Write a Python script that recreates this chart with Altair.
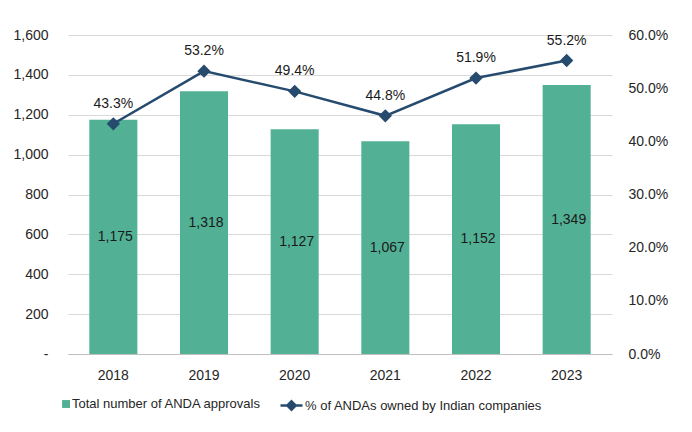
import altair as alt
import pandas as pd

years = ["2018", "2019", "2020", "2021", "2022", "2023"]
approvals = [1175, 1318, 1127, 1067, 1152, 1349]
indian_share = [0.433, 0.532, 0.494, 0.448, 0.519, 0.552]

bar_name = "Total number of ANDA approvals"
line_name = "% of ANDAs owned by Indian companies"

df = pd.DataFrame({
    "year": years,
    "approvals": approvals,
    "share": indian_share,
    "mid": [v / 2 for v in approvals],
    "bar_series": [bar_name] * len(years),
    "line_series": [line_name] * len(years),
})

FONT = "Liberation Sans"
BAR_COLOR = "#52B195"
LINE_COLOR = "#264B6E"

x_enc = alt.X("year:N", title=None,
              scale=alt.Scale(paddingInner=0.47, paddingOuter=0.235),
              axis=alt.Axis(labelAngle=0, ticks=False, labelPadding=14,
                            domainColor="#BFBFBF", labelFontSize=14,
                            labelColor="#262626", labelFont=FONT))

left_axis = alt.Axis(values=[0, 200, 400, 600, 800, 1000, 1200, 1400, 1600],
                     labelExpr="datum.value == 0 ? '-' : format(datum.value, ',')",
                     ticks=False, domain=False, labelPadding=20, labelOverlap=False,
                     gridColor="#D9D9D9", labelFontSize=14,
                     labelColor="#262626", labelFont=FONT)
right_axis = alt.Axis(orient="right", format=".1%",
                      values=[0, 0.1, 0.2, 0.3, 0.4, 0.5, 0.6],
                      ticks=False, domain=False, grid=False, labelPadding=16,
                      labelOverlap=False,
                      labelFontSize=14, labelColor="#262626", labelFont=FONT)
left_scale = alt.Scale(domain=[0, 1600])
right_scale = alt.Scale(domain=[0, 0.6])

bars = alt.Chart(df).mark_bar().encode(
    x=x_enc,
    y=alt.Y("approvals:Q", title=None, scale=left_scale, axis=left_axis),
    color=alt.Color("bar_series:N", title=None,
                    scale=alt.Scale(domain=[bar_name], range=[BAR_COLOR]),
                    legend=alt.Legend(orient="none", legendX=-20, legendY=358,
                                      direction="horizontal",
                                      symbolType="M0.28,-0.36L1,-0.36L1,0.36L0.28,0.36Z",
                                      symbolSize=484, labelFontSize=13,
                                      labelFont=FONT, labelColor="#262626",
                                      symbolStrokeWidth=0, labelOffset=2,
                                      labelLimit=0)),
)

bar_text = alt.Chart(df).mark_text(font=FONT, fontSize=14, color="#1a1a1a", dx=2).encode(
    x=alt.X("year:N"),
    y=alt.Y("mid:Q", title=None, scale=left_scale, axis=left_axis),
    text=alt.Text("approvals:Q", format=","),
)

bar_layer = alt.layer(bars, bar_text)

line = alt.Chart(df).mark_line(
    strokeWidth=2.5,
    point=alt.OverlayMarkDef(shape="diamond", size=110, filled=True, color=LINE_COLOR),
).encode(
    x=alt.X("year:N"),
    y=alt.Y("share:Q", title=None, scale=right_scale, axis=right_axis),
    stroke=alt.Stroke("line_series:N", title=None,
                      scale=alt.Scale(domain=[line_name], range=[LINE_COLOR]),
                      legend=alt.Legend(orient="none", legendX=211, legendY=358,
                                        direction="horizontal",
                                        symbolType="M-1,0L1,0M0,-0.38L0.38,0L0,0.38L-0.38,0Z",
                                        symbolSize=484, symbolFillColor=LINE_COLOR,
                                        symbolStrokeWidth=2.5, labelFontSize=13,
                                        labelFont=FONT, labelColor="#262626",
                                        labelOffset=1, labelLimit=0)),
)

line_text = alt.Chart(df).mark_text(font=FONT, fontSize=14, color="#1a1a1a", dy=-20).encode(
    x=alt.X("year:N"),
    y=alt.Y("share:Q", title=None, scale=right_scale, axis=right_axis),
    text=alt.Text("share:Q", format=".1%"),
)

line_layer = alt.layer(line, line_text)

chart = alt.layer(bar_layer, line_layer).resolve_scale(
    y="independent"
).properties(
    width=544, height=319,
    autosize=alt.AutoSizeParams(type="none"),
    padding={"left": 60, "top": 27, "right": 64, "bottom": 70},
).configure_view(
    stroke=None
)

chart.save("out.html", embed_options={"renderer": "svg", "actions": False})
